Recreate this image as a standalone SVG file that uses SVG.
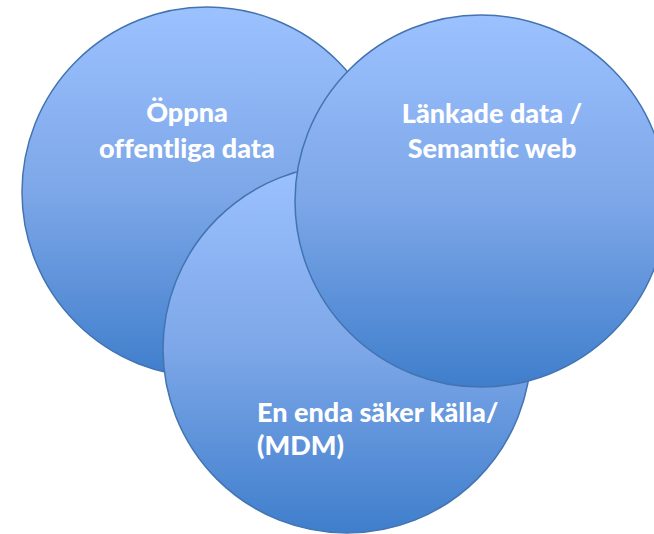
<svg xmlns="http://www.w3.org/2000/svg" width="654" height="534" viewBox="0 0 654 534">
  <defs>
    <linearGradient id="g" x1="0" y1="0" x2="0" y2="1">
      <stop offset="0" stop-color="#9CC1FF"/>
      <stop offset="0.5" stop-color="#7DA7E8"/>
      <stop offset="1" stop-color="#3F7ECC"/>
    </linearGradient>
  </defs>
  <style>
    .c { fill: url(#g); stroke: #4374B0; stroke-width: 1.5; }
    .t { font-family: Lato, "Open Sans", "Liberation Sans", sans-serif; font-weight: 900; font-size: 27px; fill: #FFFFFF; font-variant-ligatures: none; }
  </style>
  <rect width="654" height="534" fill="#FFFFFF"/>
  <g id="oppna">
    <circle class="c" cx="207" cy="192" r="185"/>
    <text class="t" text-anchor="middle" x="187" y="122">Öppna</text>
    <text class="t" text-anchor="middle" x="187" y="158">offentliga data</text>
  </g>
  <g id="mdm">
    <circle class="c" cx="347" cy="349" r="184"/>
    <text class="t" x="257" y="422">En enda säker källa/</text>
    <text class="t" x="257" y="455">(MDM)</text>
  </g>
  <g id="lankade">
    <circle class="c" cx="481" cy="201" r="186"/>
    <text class="t" text-anchor="middle" x="492" y="123">Länkade data /</text>
    <text class="t" text-anchor="middle" x="492" y="158">Semantic web</text>
  </g>
  <g id="connectors"/>
</svg>
